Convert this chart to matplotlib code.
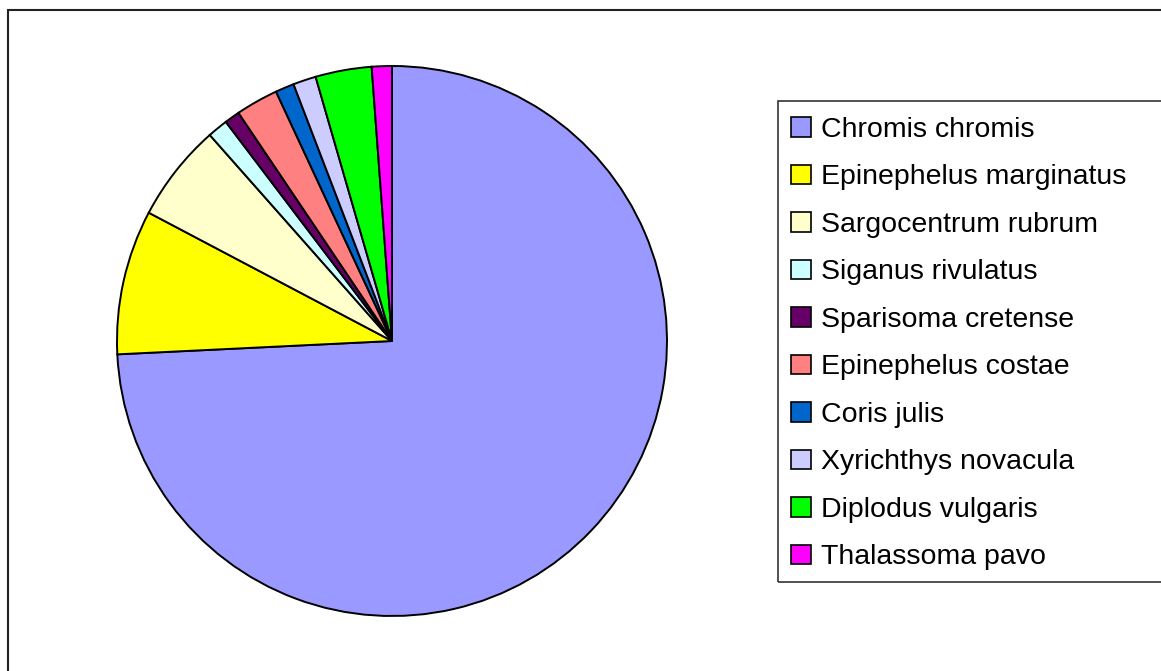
import matplotlib
matplotlib.use('Agg')
import matplotlib.pyplot as plt
from matplotlib.patches import Patch, Rectangle

# species shares (percent)
species = ['Chromis chromis', 'Epinephelus marginatus', 'Sargocentrum rubrum',
           'Siganus rivulatus', 'Sparisoma cretense', 'Epinephelus costae',
           'Coris julis', 'Xyrichthys novacula', 'Diplodus vulgaris',
           'Thalassoma pavo']
shares = [74.25, 8.5, 5.75, 1.2, 0.9, 2.5, 1.1, 1.35, 3.3, 1.18]
colors = ['#9999FF', '#FFFF00', '#FFFFCC', '#CCFFFF', '#660066',
          '#FF8080', '#0066CC', '#CCCCFF', '#00FF00', '#FF00FF']

plt.rcParams['font.family'] = ['Liberation Sans', 'DejaVu Sans']

W, H = 1161, 671
fig = plt.figure(figsize=(W / 100, H / 100), dpi=100)

# outer chart border
fig.patches.append(Rectangle((8 / W, -0.1), 1.2, (H - 10) / H + 0.1,
                             transform=fig.transFigure, fill=False,
                             edgecolor='#222222', linewidth=1.5))

# pie: center (392, 341) px, radius 275 px
cx, cy, r = 392, H - 341, 275
ax = fig.add_axes([(cx - r) / W, (cy - r) / H, 2 * r / W, 2 * r / H])
ax.pie(shares, colors=colors, startangle=90, counterclock=False,
       wedgeprops=dict(edgecolor='black', linewidth=1.4))
ax.set_xlim(-1, 1)
ax.set_ylim(-1, 1)
ax.set_axis_off()

# legend frame
fig.patches.append(Rectangle((778 / W, (H - 582) / H), 1.0, (582 - 101) / H,
                             transform=fig.transFigure, fill=False,
                             edgecolor='#333333', linewidth=1.2))

handles = [Patch(facecolor=c, edgecolor='black', linewidth=1.2) for c in colors]
fig.legend(handles, species, loc='upper left',
           bbox_to_anchor=(791 / W, (H - 117) / H),
           frameon=False, fontsize=20.5, borderpad=0, borderaxespad=0,
           handlelength=0.7, handleheight=0.7, handletextpad=0.35,
           labelspacing=0.755)

plt.savefig('out.png', dpi=100)
